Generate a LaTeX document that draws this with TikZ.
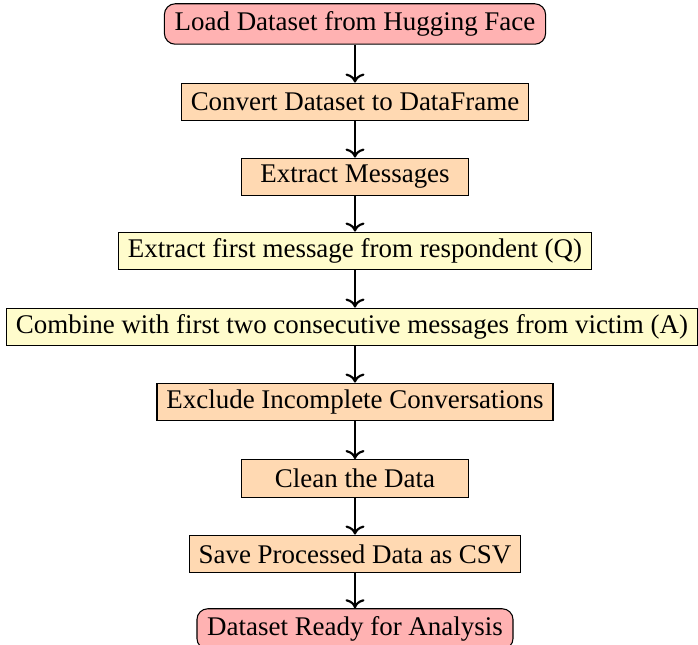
\documentclass[tikz,border=0pt]{standalone}
\usepackage{fontspec}
\setmainfont{Liberation Serif}
\usetikzlibrary{arrows.meta,positioning}
\tikzset{
  startstop/.style={draw=black, rounded corners=4pt, fill=red!30, minimum height=15pt, inner xsep=3.8pt, inner ysep=2pt, font=\fontsize{10}{12}\selectfont},
  procbox/.style={draw=black, fill=orange!30, minimum width=84pt, minimum height=14pt, inner xsep=3.5pt, inner ysep=2pt, font=\fontsize{10}{12}\selectfont},
  iobox/.style={draw=black, fill=yellow!20, minimum width=84pt, minimum height=14pt, inner xsep=3.5pt, inner ysep=2pt, font=\fontsize{10}{12}\selectfont},
  flowarrow/.style={thick, ->, >=To},
}
\begin{document}
\begin{tikzpicture}[x=0.3711pt, y=-0.3711pt]
\useasboundingbox (0,0) rectangle (698,645);
\node[startstop] (load) at (355,24) {Load Dataset from Hugging Face};
\node[procbox] (convert) at (355,102) {Convert Dataset to DataFrame};
\node[procbox] (extract) at (355,177) {Extract Messages};
\node[iobox] (first) at (355,251) {Extract first message from respondent (Q)};
\node[iobox] (combine) at (352,327) {Combine with first two consecutive messages from victim (A)};
\node[procbox] (exclude) at (355,402) {Exclude Incomplete Conversations};
\node[procbox] (clean) at (355,478.5) {Clean the Data};
\node[procbox] (save) at (355,554) {Save Processed Data as CSV};
\node[startstop] (ready) at (355,629) {Dataset Ready for Analysis};
\draw[flowarrow] (load) -- (convert);
\draw[flowarrow] (convert) -- (extract);
\draw[flowarrow] (extract) -- (first);
\draw[flowarrow] (first) -- (first |- combine.north);
\draw[flowarrow] (combine.south -| exclude) -- (exclude);
\draw[flowarrow] (exclude) -- (clean);
\draw[flowarrow] (clean) -- (save);
\draw[flowarrow] (save) -- (ready);
\end{tikzpicture}
\end{document}
